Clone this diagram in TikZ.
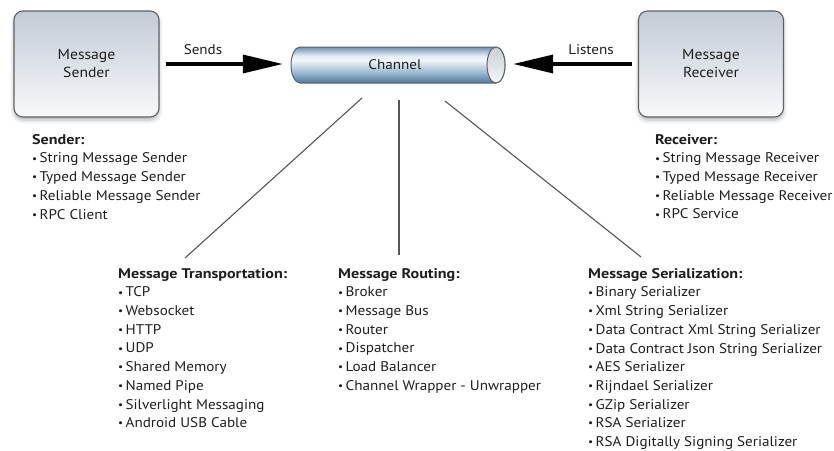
\documentclass[tikz,border=0pt]{standalone}
\usepackage{fontspec}
\setmainfont{PT Sans}[FakeStretch=1.08, BoldFeatures={FakeStretch=1.15}]
\usetikzlibrary{arrows.meta,shadows.blur,calc}
\definecolor{boxtop}{HTML}{C2CBD5}
\definecolor{boxbot}{HTML}{F8F9FB}
\definecolor{boxedge}{HTML}{5E6266}
\definecolor{txt}{HTML}{1E1E1E}
\definecolor{pipeB}{HTML}{4A789E}
\definecolor{pipeM}{HTML}{9DBBD2}
\definecolor{pipeW}{HTML}{F3F7FA}
\definecolor{pipeW2}{HTML}{E2ECF3}
\definecolor{pipeT}{HTML}{6893B5}
\definecolor{endA}{HTML}{C9D0D7}
\definecolor{endB}{HTML}{F4F6F8}
\definecolor{spoke}{HTML}{555555}
\pgfdeclareverticalshading{pipeshade}{100bp}{color(0bp)=(pipeB); color(25bp)=(pipeB); color(40bp)=(pipeM); color(57bp)=(pipeW); color(63bp)=(pipeW2); color(75bp)=(pipeT); color(100bp)=(pipeT)}
\newcommand\bul{\raisebox{0.12ex}{\scalebox{0.75}{•}}\,}
\tikzset{
  box/.style={draw=boxedge, line width=1.1pt, rounded corners=9pt,
    top color=boxtop, bottom color=boxbot,
    minimum width=145pt, minimum height=106pt, align=center,
    font=\fontsize{14.5}{18}\selectfont, text=txt,
    blur shadow={shadow xshift=0pt, shadow yshift=-3pt, shadow blur radius=4pt, shadow opacity=30}},
  bigarrow/.style={line width=3.4pt, -{Triangle[length=40pt,width=18pt]}},
  lbl/.style={font=\fontsize{14}{18}\selectfont, text=txt},
  lst/.style={anchor=north west, inner sep=0pt, align=left, text=txt,
    font=\fontsize{14}{18.7}\selectfont},
  spokeline/.style={draw=spoke, line width=1.1pt}
}
\begin{document}
\begin{tikzpicture}[x=1pt,y=1pt]
\useasboundingbox (0,0) rectangle (834,-450);

% boxes
\node[box] (snd) at (86.5,-64) {Message\\Sender};
\node[box] (rcv) at (711,-64) {Message\\Receiver};

% channel (pipe)
\node[minimum width=214pt, minimum height=36pt, inner sep=0pt] (ch) at (398,-65) {};
\shade[shading=pipeshade, draw=boxedge, line width=1pt]
  (496,-47) -- (300,-47) arc[start angle=90, end angle=270, x radius=9, y radius=18]
  -- (496,-83) arc[start angle=-90, end angle=90, x radius=9, y radius=18] -- cycle;
\shade[top color=endA, bottom color=endB, draw=boxedge, line width=1pt]
  (496,-65) ellipse[x radius=9, y radius=18];
\node[lbl] at (395,-65) {Channel};

% arrows
\draw[bigarrow, shorten <=6pt, shorten >=8pt] (snd.east) -- (snd.east -| ch.west);
\node[lbl] (sends) at (203,-50) {Sends};
\draw[bigarrow, shorten <=6pt, shorten >=8pt] (rcv.west) -- (rcv.west -| ch.east);
\node[lbl] (listens) at (591,-50) {Listens};

% spokes
\coordinate (s1) at (362,-98);
\coordinate (s2) at (399,-100);
\coordinate (s3) at (445,-101);
\coordinate (e1) at (185,-258);
\coordinate (e2) at (399,-255);
\coordinate (e3) at (641,-257);
\draw[spokeline] (s1) -- (e1);
\draw[spokeline] (s2) -- (e2);
\draw[spokeline] (s3) -- (e3);

% lists
\node[lst] (sl) at (32,-134) {\textbf{Sender:}\\
\bul String Message Sender\\
\bul Typed Message Sender\\
\bul Reliable Message Sender\\
\bul RPC Client};

\node[lst] (rl) at (655,-134) {\textbf{Receiver:}\\
\bul String Message Receiver\\
\bul Typed Message Receiver\\
\bul Reliable Message Receiver\\
\bul RPC Service};

\node[lst] (tl) at (118,-268) {\textbf{Message Transportation:}\\
\bul TCP\\
\bul Websocket\\
\bul HTTP\\
\bul UDP\\
\bul Shared Memory\\
\bul Named Pipe\\
\bul Silverlight Messaging\\
\bul Android USB Cable};

\node[lst] (rt) at (338,-268) {\textbf{Message Routing:}\\
\bul Broker\\
\bul Message Bus\\
\bul Router\\
\bul Dispatcher\\
\bul Load Balancer\\
\bul Channel Wrapper - Unwrapper};

\node[lst] (sz) at (588,-268) {\textbf{Message Serialization:}\\
\bul Binary Serializer\\
\bul Xml String Serializer\\
\bul Data Contract Xml String Serializer\\
\bul Data Contract Json String Serializer\\
\bul AES Serializer\\
\bul Rijndael Serializer\\
\bul GZip Serializer\\
\bul RSA Serializer\\
\bul RSA Digitally Signing Serializer};
\end{tikzpicture}
\end{document}
